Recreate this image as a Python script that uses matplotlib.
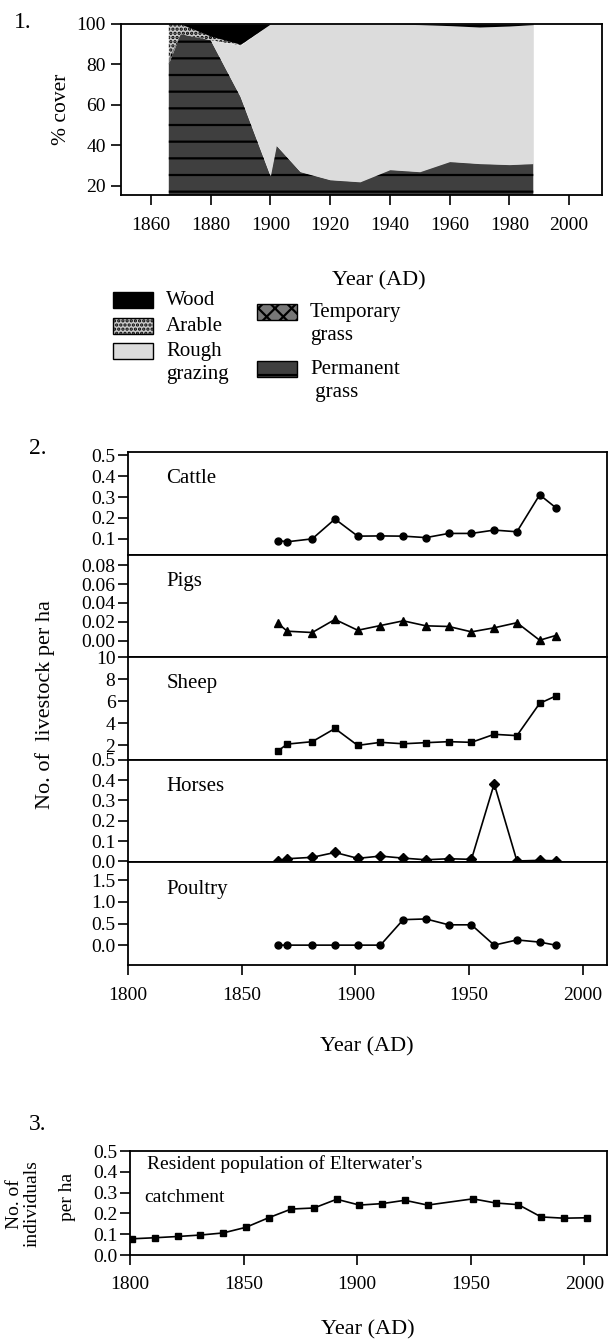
import numpy as np
import matplotlib.pyplot as plt
from matplotlib.patches import Rectangle

plt.rcParams['font.family'] = ['Liberation Serif', 'DejaVu Serif']
plt.rcParams['hatch.linewidth'] = 1.6
plt.rcParams['axes.linewidth'] = 1.3

# ---- panel 1: land use (% cover) ----
land_years = [1866, 1870, 1880, 1890, 1900, 1902, 1910, 1920, 1930, 1940, 1950, 1960, 1970, 1980, 1988]
permanent = [80, 95, 92, 64, 25, 40, 27, 23, 22, 28, 27, 32, 31, 30.5, 31]
temporary = [3, 0, 0, 0, 0, 0, 0, 0, 0, 0, 0, 0, 0, 0, 0]
rough = [0, 0, 0, 25.5, 75, 60, 73, 77, 78, 72, 72.7, 67.2, 67.5, 68.5, 68.7]
arable = [17, 5, 2, 0.5, 0, 0, 0, 0, 0, 0, 0, 0, 0, 0, 0]
wood = [0, 0, 6, 10, 0, 0, 0, 0, 0, 0, 0.3, 0.8, 1.5, 1, 0.3]

# ---- panel 2: livestock per ha ----
stock_years = [1866, 1870, 1881, 1891, 1901, 1911, 1921, 1931, 1941, 1951, 1961, 1971, 1981, 1988]
cattle = [0.092, 0.086, 0.10, 0.195, 0.113, 0.114, 0.113, 0.106, 0.126, 0.126, 0.142, 0.134, 0.311, 0.25]
pigs = [0.0182, 0.010, 0.0086, 0.0225, 0.011, 0.016, 0.021, 0.0157, 0.015, 0.0093, 0.0136, 0.019, 0.0004, 0.0054]
sheep = [1.48, 2.09, 2.31, 3.51, 1.97, 2.25, 2.12, 2.22, 2.31, 2.25, 2.98, 2.86, 5.8, 6.46]
horses = [0.002, 0.013, 0.02, 0.044, 0.015, 0.026, 0.016, 0.008, 0.013, 0.01, 0.382, 0.002, 0.005, 0.003]
poultry = [0, 0, 0, 0, 0, 0, 0.59, 0.606, 0.47, 0.47, 0, 0.12, 0.07, 0]

# ---- panel 3: resident population ----
pop_years = [1801, 1811, 1821, 1831, 1841, 1851, 1861, 1871, 1881, 1891, 1901, 1911, 1921, 1931,
             1951, 1961, 1971, 1981, 1991, 2001]
population = [0.078, 0.083, 0.089, 0.096, 0.106, 0.133, 0.179, 0.221, 0.226, 0.268, 0.240, 0.247,
              0.263, 0.240, 0.270, 0.250, 0.242, 0.183, 0.177, 0.179]

W, H = 609, 1344
fig = plt.figure(figsize=(W / 100, H / 100), dpi=100)

TICK_FS = 14


def fx(px):
    return px / W


def fy(py):
    return 1 - py / H


# panel 1
ax1 = fig.add_axes([fx(121), fy(195), fx(602 - 121), (195 - 24) / H])
layers = [permanent, temporary, rough, arable, wood]
face = ['#3f3f3f', '#777777', '#dcdcdc', '#c8c8c8', '#000000']
hatches = ['-', 'xx', None, '....', None]
base = np.zeros(len(land_years))
for vals, fc, h in zip(layers, face, hatches):
    top = base + np.array(vals, dtype=float)
    ax1.fill_between(land_years, base, top, facecolor=fc, edgecolor='black',
                     hatch=h, linewidth=0)
    base = top
ax1.set_xlim(1850, 2011)
ax1.set_ylim(15.5, 100)
ax1.set_xticks(range(1860, 2001, 20))
ax1.set_yticks(range(20, 101, 20))
ax1.tick_params(direction='out', length=7, width=1.2, labelsize=TICK_FS, pad=4)
ax1.tick_params(axis='x', pad=9)
ax1.set_ylabel('% cover', fontsize=15.5, labelpad=4)

# panel 2
gs = fig.add_gridspec(5, 1, left=fx(128), right=fx(607), top=fy(452), bottom=fy(965), hspace=0)
series = [
    ('Cattle', cattle, 'o', (0.0246, 0.516), np.arange(0.1, 0.51, 0.1), '%.1f'),
    ('Pigs', pigs, '^', (-0.0176, 0.0913), np.arange(0.0, 0.081, 0.02), '%.2f'),
    ('Sheep', sheep, 's', (0.66, 10), np.arange(2, 11, 2), '%d'),
    ('Horses', horses, 'D', (-0.005, 0.5), np.arange(0.0, 0.51, 0.1), '%.1f'),
    ('Poultry', poultry, 'o', (-0.46, 1.915), np.arange(0.0, 1.51, 0.5), '%.1f'),
]
axes2 = []
for i, (name, vals, mk, lim, ticks, fmt) in enumerate(series):
    ax = fig.add_subplot(gs[i], sharex=axes2[0] if axes2 else None)
    ms = 5.5 if mk == '^' else 5
    ax.plot(stock_years, vals, color='black', lw=1.2, marker=mk, ms=ms)
    ax.set_ylim(*lim)
    ax.set_yticks(ticks)
    ax.set_yticklabels([fmt % t for t in ticks])
    ax.text(0.08, 0.74, name, transform=ax.transAxes, fontsize=15, va='center')
    ax.tick_params(direction='out', length=7, width=1.2, labelsize=TICK_FS, pad=2)
    if i < 4:
        ax.tick_params(axis='x', bottom=False, labelbottom=False)
    axes2.append(ax)
axes2[0].set_xlim(1800, 2010.6)
axes2[-1].set_xticks(range(1800, 2001, 50))
axes2[-1].tick_params(axis='x', pad=9)

# panel 3
ax3 = fig.add_axes([fx(130), fy(1255), fx(607 - 130), (1255 - 1151) / H])
ax3.plot(pop_years, population, color='black', lw=1.2, marker='s', ms=5)
ax3.set_xlim(1800, 2010)
ax3.set_ylim(0, 0.5)
ax3.set_xticks(range(1800, 2001, 50))
ax3.set_yticks(np.arange(0, 0.51, 0.1))
ax3.set_yticklabels(['%.1f' % t for t in np.arange(0, 0.51, 0.1)])
ax3.tick_params(direction='out', length=7, width=1.2, labelsize=TICK_FS, pad=2)
ax3.tick_params(axis='x', pad=8)
ax3.text(0.035, 0.87, "Resident population of Elterwater's", transform=ax3.transAxes,
         fontsize=14, va='center')
ax3.text(0.03, 0.55, 'catchment', transform=ax3.transAxes, fontsize=14, va='center')

# overlay axes in pixel coordinates for labels and the legend
lax = fig.add_axes([0, 0, 1, 1], zorder=-1)
lax.set_xlim(0, W)
lax.set_ylim(H, 0)
lax.axis('off')

lax.text(23, 22, '1.', fontsize=17, ha='center', va='center')
lax.text(38, 448, '2.', fontsize=17, ha='center', va='center')
lax.text(38, 1125, '3.', fontsize=17, ha='center', va='center')

lax.text(379, 281, 'Year (AD)', fontsize=16, ha='center', va='center')
lax.text(367, 1047, 'Year (AD)', fontsize=16, ha='center', va='center')
lax.text(368, 1330, 'Year (AD)', fontsize=16, ha='center', va='center')
lax.text(45, 705, 'No. of  livestock per ha', fontsize=16, rotation=90, ha='center', va='center')
lax.text(23, 1204, 'No. of\nindividuals', fontsize=14, rotation=90, ha='center', va='center',
         linespacing=1.05)
lax.text(68, 1197, 'per ha', fontsize=14, rotation=90, ha='center', va='center')

# legend
leg_items = [
    (113, 292, '#000000', None, 'Wood'),
    (113, 318, '#c8c8c8', '....', 'Arable'),
    (113, 343, '#dcdcdc', None, 'Rough\ngrazing'),
    (257, 304, '#777777', 'xx', 'Temporary\ngrass'),
    (257, 361, '#3f3f3f', '-', 'Permanent\n grass'),
]
for x0, y0, fc, h, lab in leg_items:
    lax.add_patch(Rectangle((x0, y0), 40, 16, facecolor=fc, edgecolor='black',
                            hatch=h, linewidth=1.0))
    lax.text(x0 + 53, y0 - 1, lab, fontsize=15, ha='left', va='top', linespacing=1.3)

fig.savefig('out.png', dpi=100)
